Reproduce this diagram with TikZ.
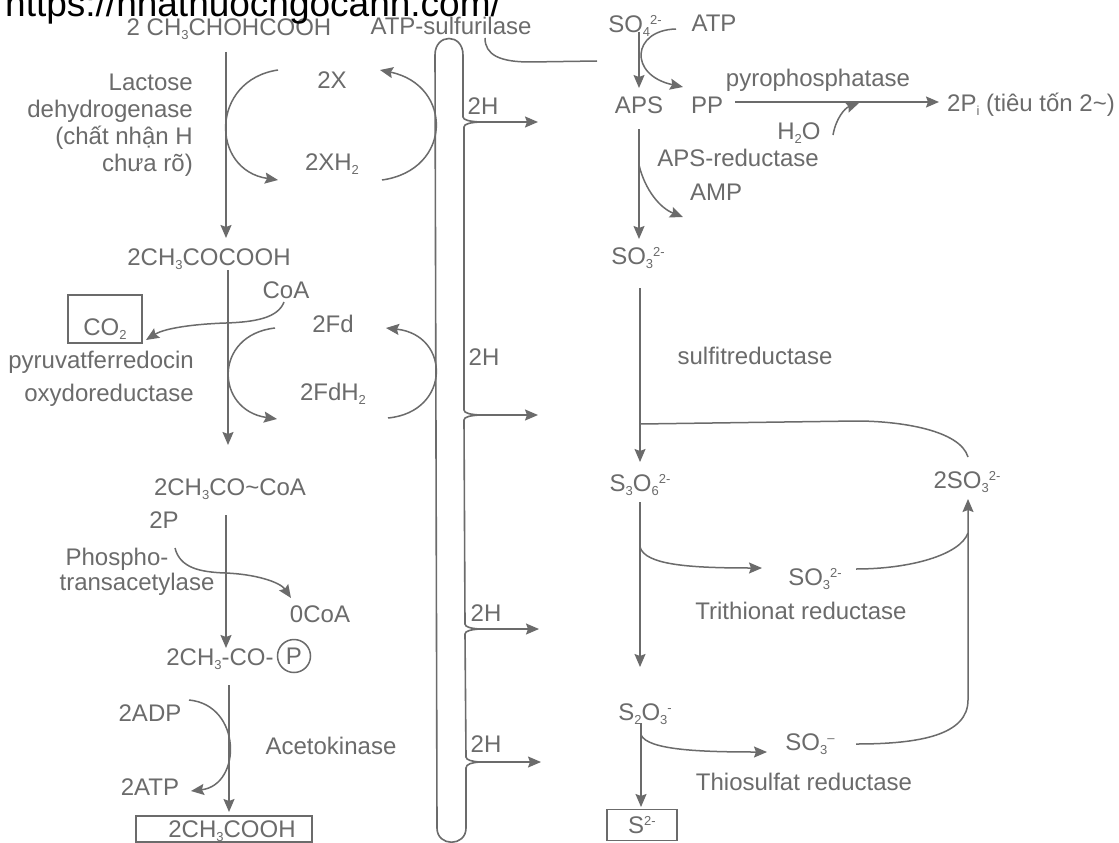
\documentclass[tikz,border=0pt]{standalone}
\usepackage{fontspec}
\setmainfont{Liberation Sans}
\usetikzlibrary{arrows.meta}
\definecolor{ink}{gray}{0.42}
\definecolor{linec}{gray}{0.42}
\newcommand\lo[1]{\raisebox{-0.28ex}{\fontsize{13}{13}\selectfont #1}}
\newcommand\hi[1]{\raisebox{0.62ex}{\fontsize{13}{13}\selectfont #1}}
\tikzset{
  lab/.style={text=ink,inner sep=0pt,text height=17pt,text depth=0pt,font=\fontsize{24}{27}\selectfont},
  lnk/.style={draw=linec,line width=1.5pt},
  arr/.style={lnk,-{Stealth[length=13pt,width=11pt,inset=2pt]}},
  tubeline/.style={draw=linec,line width=1.6pt},
  boxed/.style={draw=linec,line width=1.6pt,text=ink},
}
\begin{document}
\begin{tikzpicture}[x=1pt,y=-1pt]
\useasboundingbox (0,0) rectangle (1119,843);
\fill[white] (0,0) rectangle (1119,843);
% left column
\node[lab] (lact) at (229,27) {2 CH\lo{3}CHOHCOOH};
\node[lab] (atpsulf) at (451,26) {ATP-sulfurilase};
\node[lab,anchor=east] (ldeA) at (193,82) {Lactose};
\node[lab,anchor=east] (ldeB) at (193,109) {dehydrogenase};
\node[lab,anchor=east] (ldeC) at (193,136) {(chất nhận H};
\node[lab,anchor=east] (ldeD) at (193,163) {chưa rõ)};
\node[lab] (twoX) at (332,80) {2X};
\node[lab] (twoXH) at (332,162) {2XH\lo{2}};
\node[lab] (pyr) at (209,257) {2CH\lo{3}COCOOH};
\node[lab] (coa) at (286,290) {CoA};
\node[boxed,anchor=center,inner xsep=0pt,inner ysep=7.5pt,text height=33pt,text depth=0pt,minimum width=74pt,font=\fontsize{24}{27}\selectfont] (co2) at (105,319) {CO\lo{2}};
\node[lab] (twoFd) at (333,324) {2Fd};
\node[lab] (twoFdH) at (333,392) {2FdH\lo{2}};
\node[lab,anchor=east] (pfoA) at (194,360) {pyruvatferredocin};
\node[lab,anchor=east] (pfoB) at (194,393) {oxydoreductase};
\node[lab] (acoa) at (230,487) {2CH\lo{3}CO\textasciitilde CoA};
\node[lab] (twoP) at (164,520) {2P};
\node[lab] (phosA) at (117,557) {Phospho-};
\node[lab] (phosB) at (137,582) {transacetylase};
\node[lab] (zcoa) at (320,614) {0CoA};
\node[lab] (cop) at (220,657) {2CH\lo{3}-CO-};
\node[draw=linec,line width=1.5pt,circle,text=ink,inner sep=0pt,minimum size=33pt,font=\fontsize{24}{27}\selectfont] (pc) at (294,656) {P};
\node[lab] (adp) at (150,713) {2ADP};
\node[lab] (atpb) at (150,787) {2ATP};
\node[lab] (aceto) at (331,746) {Acetokinase};
\node[boxed,inner sep=0pt,text height=17pt,text depth=0pt,minimum width=176pt,minimum height=26pt,font=\fontsize{24}{27}\selectfont] (acid) at (224,829) {\hspace*{16pt}2CH\lo{3}COOH};
% 2H labels
\node[lab] (hA) at (483,106) {2H};
\node[lab] (hB) at (484,357) {2H};
\node[lab] (hC) at (486,613) {2H};
\node[lab] (hD) at (486,744) {2H};
% right column
\node[lab] (so4) at (635,24) {SO\lo{4}\hi{2-}};
\node[lab] (atp) at (714,23) {ATP};
\node[lab] (aps) at (639,105) {APS};
\node[lab] (pp) at (707,105) {PP};
\node[lab] (ppase) at (818,78) {pyrophosphatase};
\node[lab] (pi) at (1031,103) {2P\lo{i} (tiêu tốn 2\textasciitilde)};
\node[lab] (hho) at (799,131) {H\lo{2}O};
\node[lab] (apsr) at (738,158) {APS-reductase};
\node[lab] (amp) at (716,192) {AMP};
\node[lab] (so3) at (638,256) {SO\lo{3}\hi{2-}};
\node[lab] (sulfit) at (755,356) {sulfitreductase};
\node[lab] (s3o6) at (640,483) {S\lo{3}O\lo{6}\hi{2-}};
\node[lab] (so3b) at (967,480) {2SO\lo{3}\hi{2-}};
\node[lab] (so3m) at (815,577) {SO\lo{3}\hi{2-}};
\node[lab] (trir) at (801,611) {Trithionat reductase};
\node[lab] (s2o3) at (645,712) {S\lo{2}O\lo{3}\hi{-}};
\node[lab] (so3l) at (810,742) {SO\lo{3}\hi{--}};
\node[lab] (thir) at (804,782) {Thiosulfat reductase};
\node[boxed,inner sep=0pt,text height=17pt,text depth=0pt,minimum width=70pt,minimum height=31pt,font=\fontsize{24}{27}\selectfont] (s2box) at (642,825) {S\hi{2-}};
% url
\node[anchor=base west,inner sep=0pt,text=black,font=\fontsize{37}{40}\selectfont] (url) at (5,17) {https://nhathuocngocanh.com/};
% free ends
\coordinate (sulfEnd) at (597,61);
\coordinate (hhoEnd) at (859,103);
\coordinate (ampBr) at (639,165);
\coordinate (retJoin) at (640,424);
\coordinate (triBr) at (640,547);
\coordinate (triJoin) at (968,533);
\coordinate (thiBr) at (641,735);
\coordinate (bA) at (480,122); \coordinate (eA) at (538,122);
\coordinate (bB) at (480,415); \coordinate (eB) at (538,415);
\coordinate (bC) at (480,629); \coordinate (eC) at (539,629);
\coordinate (bD) at (480,762); \coordinate (eD) at (541,762);
% tube
\draw[tubeline] (bA) .. controls (470,121.5) and (463,120) .. (463,117) -- (463,55)
  .. controls (463,33) and (435,33) .. (435,55) -- (437,828)
  .. controls (437,847) and (466,847) .. (466,828) -- (466,768)
  .. controls (466,764) and (472,762.5) .. (bD);
\draw[tubeline] (bA) .. controls (470,122.5) and (464,124) .. (464,127) -- (464,410)
  .. controls (464,413) and (470,414.5) .. (bB);
\draw[tubeline] (bB) .. controls (470,415.5) and (464,417) .. (464,420) -- (465,624)
  .. controls (465,627) and (471,628.5) .. (bC);
\draw[tubeline] (bC) .. controls (471,629.5) and (465,631) .. (465,634) -- (466,757)
  .. controls (466,760) and (472,761.5) .. (bD);
\draw[arr] (bA) -- (eA);
\draw[arr] (bB) -- (eB);
\draw[arr] (bC) -- (eC);
\draw[arr] (bD) -- (eD);
% left pathway
\draw[arr] ([shift={(-3pt,-25pt)}]lact.center) -- ([shift={(17pt,19pt)}]pyr.center);
\draw[arr] ([shift={(-54pt,10pt)}]twoX.center) .. controls (210,80) and (210,170) .. ([shift={(-54pt,-18pt)}]twoXH.center);
\draw[arr] ([shift={(50pt,-18pt)}]twoXH.center) .. controls (453,170) and (453,85) .. ([shift={(48pt,10pt)}]twoX.center);
\draw[arr] ([shift={(19pt,-13pt)}]pyr.center) -- ([shift={(-2pt,42pt)}]acoa.center);
\draw[arr] ([shift={(-2pt,-12pt)}]coa.center) .. controls (278,318) and (255,322) .. (226,323) .. controls (195,324) and (165,328) .. ([shift={(41pt,-21pt)}]co2.center);
\draw[arr] ([shift={(-58pt,-4pt)}]twoFd.center) .. controls (213,335) and (215,410) .. ([shift={(-56pt,-27pt)}]twoFdH.center);
\draw[arr] ([shift={(55pt,-26pt)}]twoFdH.center) .. controls (451,412) and (451,335) .. ([shift={(53pt,-4pt)}]twoFd.center);
\draw[arr] ([shift={(-4pt,-28pt)}]acoa.center) -- ([shift={(6pt,9pt)}]cop.center);
\draw[arr] ([shift={(11pt,-28pt)}]twoP.center) .. controls (180,568) and (200,572) .. (225,573) .. controls (255,574) and (280,582) .. ([shift={(-29pt,16pt)}]zcoa.center);
\draw[arr] ([shift={(9pt,-28pt)}]cop.center) -- ([shift={(5pt,17pt)}]acid.center);
\draw[arr] ([shift={(39pt,13pt)}]adp.center) .. controls (242,705) and (242,785) .. ([shift={(41pt,-4pt)}]atpb.center);
% right pathway
\draw[lnk] ([shift={(34pt,-12pt)}]atpsulf.center) .. controls (485,55) and (500,62) .. (530,62) -- (sulfEnd);
\draw[arr] ([shift={(4pt,-8pt)}]so4.center) -- ([shift={(0pt,17pt)}]aps.center);
\draw[arr] ([shift={(-38pt,-6pt)}]atp.center) .. controls (632,30) and (628,75) .. ([shift={(-24pt,18pt)}]pp.center);
\draw[arr] ([shift={(28pt,3pt)}]pp.center) -- ([shift={(-92pt,1pt)}]pi.center);
\draw[arr] ([shift={(34pt,-4pt)}]hho.center) .. controls (836,118) and (845,108) .. (hhoEnd);
\draw[arr] ([shift={(0pt,-24pt)}]aps.center) -- ([shift={(1pt,17pt)}]so3.center);
\draw[arr] (ampBr) .. controls (645,190) and (660,208) .. ([shift={(-33pt,-25pt)}]amp.center);
\draw[arr] ([shift={(2pt,-32pt)}]so3.center) -- ([shift={(0pt,21pt)}]s3o6.center);
\draw[lnk] ([shift={(1pt,23pt)}]so3b.center) .. controls (960,430) and (900,421) .. (856,421) -- (retJoin);
\draw[arr] ([shift={(0pt,-19pt)}]s3o6.center) -- ([shift={(-5pt,45pt)}]s2o3.center);
\draw[arr] (triBr) .. controls (645,565) and (690,568) .. ([shift={(-53pt,9pt)}]so3m.center);
\draw[lnk] ([shift={(41pt,8pt)}]so3m.center) .. controls (910,569) and (960,555) .. (triJoin);
\draw[arr] ([shift={(46pt,-2pt)}]so3l.center) .. controls (920,744) and (968,735) .. (968,700) -- ([shift={(1pt,-19pt)}]so3b.center);
\draw[arr] ([shift={(-4pt,-11pt)}]s2o3.center) -- ([shift={(-1pt,18pt)}]s2box.center);
\draw[arr] (thiBr) .. controls (648,750) and (700,752) .. ([shift={(-43pt,-10pt)}]so3l.center);
\end{tikzpicture}
\end{document}
